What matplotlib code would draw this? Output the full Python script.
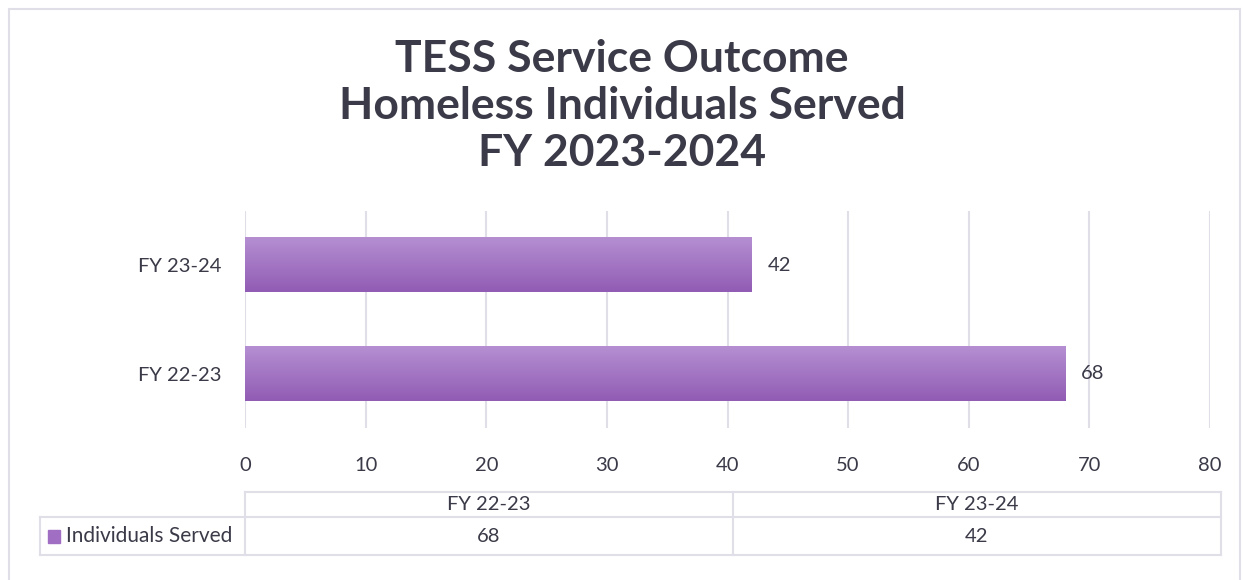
import matplotlib.pyplot as plt
import numpy as np
from matplotlib.colors import LinearSegmentedColormap
from matplotlib.patches import Rectangle

plt.rcParams['font.family'] = ['Lato', 'DejaVu Sans']

categories = ['FY 22-23', 'FY 23-24']
values = [68, 42]
series_name = 'Individuals Served'
title = 'TESS Service Outcome\nHomeless Individuals Served\nFY 2023-2024'

TEXT = '#3a3a48'
GRID = '#e0dfe8'
top_col = '#b58fd2'
bot_col = '#915cb4'

fig = plt.figure(figsize=(12.44, 5.8), dpi=100)
W, H = 1244, 580

def fx(px):
    return px / W

def fy(py):
    return 1 - py / H

# outer chart border
fig.patches.append(Rectangle((fx(9), fy(590)), fx(1240 - 9), fy(9) - fy(590),
                             transform=fig.transFigure, fill=False,
                             edgecolor=GRID, lw=1.5))

fig.text(0.5, fy(106), title, ha='center', va='center', fontsize=32,
         fontweight='bold', color=TEXT, linespacing=1.22)

ax = fig.add_axes([fx(245), fy(428), fx(1210 - 245), fy(211) - fy(428)])
ax.set_xlim(0, 80)
ax.set_ylim(-0.5, 1.5)
ax.set_xticks(np.arange(0, 81, 10))
ax.set_yticks(range(len(categories)))
ax.set_yticklabels(categories)
ax.tick_params(length=0, labelsize=14.5, colors=TEXT)
ax.tick_params(axis='y', pad=17)
ax.tick_params(axis='x', pad=21)
for s in ax.spines.values():
    s.set_visible(False)
ax.grid(axis='x', color=GRID, lw=1.5)
ax.set_axisbelow(True)

cmap = LinearSegmentedColormap.from_list('g', [bot_col, top_col])
grad = np.linspace(0, 1, 100).reshape(-1, 1)
bh = 0.5
bars = ax.barh(range(len(categories)), values, height=bh, color='none')
for i, v in enumerate(values):
    ax.imshow(grad, cmap=cmap, origin='lower', aspect='auto',
              extent=(0, v, i - bh / 2, i + bh / 2), zorder=2)
    ax.text(v + 1.3, i, str(v), va='center', ha='left', fontsize=14.5, color=TEXT)
ax.set_xlim(0, 80)
ax.set_ylim(-0.5, 1.5)

# data table under the chart
x0, x1, x2, x3 = 40, 245, 733, 1221
y0, y1, y2 = 492, 517, 555
lines = [
    ((x1, x3), (y0, y0)), ((x0, x3), (y1, y1)), ((x0, x3), (y2, y2)),
    ((x0, x0), (y1, y2)), ((x1, x1), (y0, y2)), ((x2, x2), (y0, y2)),
    ((x3, x3), (y0, y2)),
]
for xs, ys in lines:
    fig.add_artist(plt.Line2D([fx(xs[0]), fx(xs[1])], [fy(ys[0]), fy(ys[1])],
                              transform=fig.transFigure, color=GRID, lw=1.5))
cols = [(x1, x2), (x2, x3)]
for (a, b), cat, v in zip(cols, categories, values):
    fig.text(fx((a + b) / 2), fy((y0 + y1) / 2), cat, ha='center', va='center',
             fontsize=14.5, color=TEXT)
    fig.text(fx((a + b) / 2), fy((y1 + y2) / 2), str(v), ha='center', va='center',
             fontsize=14.5, color=TEXT)
fig.patches.append(Rectangle((fx(48), fy(543)), fx(12), fy(530) - fy(543),
                             transform=fig.transFigure, color='#a06fc3'))
fig.text(fx(66), fy((y1 + y2) / 2), series_name, ha='left', va='center',
         fontsize=15, color=TEXT)

fig.savefig('out.png', dpi=100)
